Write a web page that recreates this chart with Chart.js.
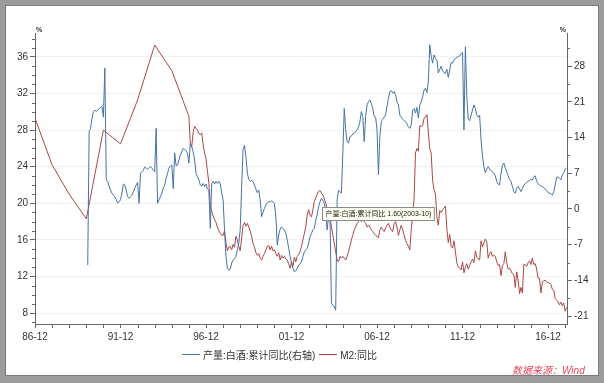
<!DOCTYPE html>
<html lang="zh">
<head>
<meta charset="UTF-8">
<title>白酒产量与M2</title>
<script src="https://cdn.jsdelivr.net/npm/chart.js"></script>
<style>
    body {
        margin: 0;
        width: 604px;
        height: 383px;
        background: #9c9c9c;
        position: relative;
        overflow: hidden;
        font-family: "Liberation Sans", "Noto Sans CJK SC", sans-serif;
    }
    .frame {
        position: absolute;
        left: 5px; top: 5px;
        width: 594px; height: 371px;
        background: #fff;
        box-shadow: inset 0 0 0 1px #7a7a7a;
    }
    .chart-box {
        position: absolute;
        left: 0; top: 0;
        width: 604px; height: 383px;
    }
    .legend {
        position: absolute;
        left: 182px; top: 347px;
        display: flex;
        align-items: center;
        font-size: 10px;
        color: #333;
        font-family: "Liberation Sans", "Noto Sans CJK SC", sans-serif;
    }
    .legend .swatch {
        display: inline-block;
        width: 18px; height: 1px;
        margin-right: 3px;
    }
    .legend .item { display: flex; align-items: center; margin-right: 4px; }
    .source {
        position: absolute;
        left: 512px; top: 362px;
        font-size: 10px;
        font-style: italic;
        color: #e04a5e;
        font-family: "Liberation Sans", "Noto Sans CJK SC", sans-serif;
    }
</style>
</head>
<body>
<div class="frame"></div>
<div class="chart-box"><canvas id="chart" width="604" height="383"></canvas></div>
<div class="legend">
    <span class="item"><span class="swatch" style="background:#4572a7"></span>产量:白酒:累计同比(右轴)</span>
    <span class="item"><span class="swatch" style="background:#aa4643"></span>M2:同比</span>
</div>
<div class="source">数据来源：Wind</div>

<script>
// ---- datos ----
const xTickLabels = ['86-12', '91-12', '96-12', '01-12', '06-12', '11-12', '16-12'];
const leftTicks = [8, 12, 16, 20, 24, 28, 32, 36];
const rightTicks = [-21, -14, -7, 0, 7, 14, 21, 28];

// M2 同比: anual hasta 1995, despues mensual
const m2AnnualDates = ['1986-12', '1987-12', '1988-12', '1989-12', '1990-12',
                       '1991-12', '1992-12', '1993-12', '1994-12', '1995-12'];
const m2AnnualValues = [29.3, 24.2, 21.0, 18.3, 28.0, 26.5, 31.3, 37.3, 34.5, 29.5];
const m2MonthlyStart = '1996-01';
const m2MonthlyValues = [
    26.5, 26.2, 27.8, 28.4, 28.2, 28.0, 27.6, 27.5, 27.7, 26.4, 25.5, 24.9,
    23.5, 22.2, 19.9, 19.1, 18.6, 18.2, 17.9, 17.4, 17.0, 16.7, 16.5, 16.5,
    17.0, 15.7, 14.8, 15.2, 15.3, 14.9, 15.5, 15.2, 16.4, 16.0, 15.3, 14.8,
    16.2, 17.6, 17.9, 17.5, 17.8, 17.4, 17.0, 16.4, 15.6, 15.2, 14.6, 14.3,
    14.5, 14.0, 13.8, 14.2, 14.5, 14.9, 15.3, 15.4, 14.9, 15.3, 14.8, 14.9,
    14.5, 14.2, 14.6, 13.8, 14.3, 14.0, 14.2, 13.9, 13.8, 13.4, 12.9, 13.6,
    13.1, 14.1, 13.6, 14.2, 14.4, 14.7, 15.3, 16.0, 16.7, 17.4, 18.7, 19.3,
    18.7, 18.5, 19.3, 20.2, 20.6, 21.0, 21.3, 21.4, 21.1, 20.9, 20.5, 20.0,
    19.4, 18.7, 18.4, 17.5, 16.5, 15.6, 14.7, 13.8, 13.6, 14.2, 14.0, 14.2,
    14.0, 13.8, 14.2, 14.7, 15.3, 16.0, 16.5, 17.1, 17.4, 17.8, 18.0, 18.2,
    18.0, 18.2, 18.0, 17.8, 17.4, 17.6, 17.4, 17.1, 16.9, 16.7, 16.5, 16.4,
    16.2, 17.1, 17.4, 17.1, 16.9, 17.3, 17.6, 17.8, 17.4, 17.1, 16.9, 17.8,
    18.0, 17.4, 16.5, 17.1, 17.6, 17.1, 16.5, 16.0, 15.6, 15.3, 14.9, 17.1,
    18.8, 20.5, 25.5, 26.0, 25.7, 28.5, 28.4, 28.5, 29.3, 29.4, 29.7, 27.7,
    26.0, 25.5, 22.5, 21.5, 21.0, 18.5, 17.6, 19.2, 19.0, 19.3, 19.5, 19.7,
    17.2, 15.7, 16.6, 15.3, 15.1, 15.9, 14.7, 13.5, 13.0, 12.9, 12.7, 13.6,
    12.4, 13.0, 13.4, 12.8, 13.2, 13.6, 13.9, 13.5, 14.8, 14.1, 13.9, 13.8,
    15.9, 15.2, 15.7, 16.1, 15.8, 14.0, 14.5, 14.7, 14.2, 14.3, 14.2, 13.6,
    13.2, 13.3, 12.1, 13.2, 13.4, 14.7, 13.5, 12.8, 12.9, 12.6, 12.3, 12.2,
    10.8, 12.5, 11.6, 10.1, 10.8, 10.2, 13.3, 13.3, 13.1, 13.5, 13.7, 13.3,
    14.0, 13.3, 13.4, 12.8, 11.8, 11.8, 10.2, 11.4, 11.5, 11.6, 11.4, 11.3,
    11.3, 11.1, 10.6, 10.5, 9.6, 9.4, 9.2, 8.9, 9.2, 8.8, 9.1, 8.2,
    8.6
];

// 产量:白酒:累计同比 (eje derecho), mensual
const baijiuStart = '1990-01';
const baijiuValues = [
    -11.0, 15.2, 15.8, 17.8, 19.1, 19.4, 19.1, 19.4, 19.7, 19.9, 20.1, 18.0,
    27.6, 5.7, 5.4, 4.4, 3.7, 3.1, 2.7, 2.4, 1.8, 1.2, 1.4, 1.8,
    3.1, 4.9, 4.7, 3.7, 2.4, 2.1, 2.4, 2.7, 3.4, 4.1, 4.7, 5.2,
    1.1, 7.0, 7.3, 7.6, 8.2, 8.0, 7.8, 8.1, 8.3, 8.0, 7.6, 7.3,
    15.8, 1.1, 1.8, 2.4, 3.1, 4.1, 4.7, 6.0, 7.0, 8.0, 8.4, 8.6,
    4.0, 11.0, 8.5, 8.6, 9.6, 10.6, 11.2, 11.9, 11.7, 11.4, 10.9, 9.0,
    12.9, 12.2, 11.2, 9.6, 7.0, 6.3, 5.7, 4.7, 4.5, 5.0, 4.4, 4.9,
    3.9, 3.7, -3.8, 5.0, 5.4, 4.9, 5.4, 5.0, 5.4, 4.9, 3.1, 1.8,
    -4.1, -9.3, -11.6, -12.0, -11.8, -10.6, -10.0, -9.7, -9.3, -8.0, -6.7, -4.1,
    4.4, 11.6, 12.5, 10.3, 7.0, 5.8, 5.4, 5.6, 5.4, 4.7, 3.9, 3.2,
    3.7, 1.8, -1.5, -0.7, 0.1, 0.8, 1.2, 1.4, 1.4, 1.6, 1.4, 1.1,
    -1.5, -7.1, -5.1, -4.0, -3.5, -3.8, -4.1, -4.8, -6.1, -7.7, -9.3, -10.6,
    -11.6, -12.3, -12.1, -11.6, -11.0, -10.8, -10.3, -9.3, -8.4, -8.0, -7.7, -6.7,
    -5.4, -4.8, -4.1, -3.8, -2.2, -1.2, 0.5, 1.4, 2.1, 1.6, 1.1, -0.5,
    -4.1, -1.5, -1.8, -18.5, -18.8, -19.2, -19.8, 1.8, 3.7, 3.4, 3.1, 10.9,
    19.7, 15.5, 13.2, 12.9, 14.2, 14.3, 14.7, 14.8, 15.2, 15.5, 16.1, 17.1,
    19.1, 18.1, 13.2, 18.1, 20.4, 21.0, 21.4, 20.7, 19.7, 18.1, 18.0, 15.5,
    6.7, 14.2, 17.1, 17.6, 18.0, 18.4, 20.1, 21.7, 23.0, 23.2, 22.7, 23.0,
    22.4, 21.0, 20.4, 18.4, 18.0, 17.6, 17.3, 17.1, 16.7, 16.1, 15.8, 16.5,
    19.4, 19.7, 18.8, 19.9, 17.8, 20.4, 21.0, 22.0, 23.3, 23.7, 22.8, 25.0,
    32.2, 29.9, 28.6, 30.2, 29.5, 29.2, 26.7, 27.3, 28.0, 27.1, 26.7, 26.6,
    27.4, 25.8, 27.3, 28.7, 28.6, 29.2, 29.5, 29.7, 29.9, 30.0, 30.4, 30.7,
    15.5, 31.8, 22.0, 17.6, 17.3, 18.4, 19.4, 20.4, 19.7, 18.4, 18.0, 18.4,
    13.5, 10.3, 8.3, 7.1, 7.8, 8.3, 7.8, 7.5, 7.3, 7.0, 6.5, 5.4,
    4.9, 4.7, 7.0, 8.6, 9.0, 8.0, 7.3, 6.5, 5.8, 5.4, 4.4, 3.4,
    3.1, 4.1, 4.4, 3.9, 3.4, 4.1, 4.7, 4.9, 5.2, 5.4, 5.6, 5.8,
    5.7, 6.3, 6.5, 5.4, 5.0, 4.7, 4.5, 4.4, 4.2, 3.9, 3.6, 3.2,
    3.1, 3.0, 2.7, 3.4, 4.7, 6.2, 6.3, 6.0, 5.7, 6.7, 7.1, 7.8,
    8.0
];

// punto marcado por el tooltip de la captura
const tooltipDate = '2003-10';
const tooltipName = '产量:白酒:累计同比';

// meses contados desde 1986-12
function monthIndex(s) {
    const [y, m] = s.split('-').map(Number);
    return (y - 1986) * 12 + (m - 12);
}
function labelToMonth(l) {
    const yy = Number(l.slice(0, 2));
    const year = yy > 50 ? 1900 + yy : 2000 + yy;
    return monthIndex(year + '-' + l.slice(3));
}

const m2Points = m2AnnualDates.map((d, i) => ({ x: monthIndex(d), y: m2AnnualValues[i] }))
    .concat(m2MonthlyValues.map((v, i) => ({ x: monthIndex(m2MonthlyStart) + i, y: v })));
const baijiuPoints = baijiuValues.map((v, i) => ({ x: monthIndex(baijiuStart) + i, y: v }));

const tickFont = { family: '"Liberation Sans", sans-serif', size: 10 };

// marcas menores, simbolos % y la etiqueta del tooltip
const extras = {
    id: 'extras',
    afterDraw(chart) {
        const { ctx, chartArea: a } = chart;
        const x = chart.scales.x, yL = chart.scales.yL, yR = chart.scales.yR;
        ctx.save();
        ctx.strokeStyle = '#666';
        ctx.lineWidth = 1;
        ctx.beginPath();
        for (let v = 7; v <= 38; v++) {
            if (v % 4 === 0) continue;
            const py = Math.round(yL.getPixelForValue(v)) + 0.5;
            ctx.moveTo(a.left - 3, py); ctx.lineTo(a.left, py);
        }
        for (let v = -17.5; v <= 33; v += 7) {
            const py = Math.round(yR.getPixelForValue(v)) + 0.5;
            ctx.moveTo(a.right, py); ctx.lineTo(a.right + 3, py);
        }
        for (let m = 12; m <= 372; m += 12) {
            if (m % 60 === 0) continue;
            const px = Math.round(x.getPixelForValue(m)) + 0.5;
            ctx.moveTo(px, a.bottom); ctx.lineTo(px, a.bottom + 4);
        }
        ctx.stroke();

        ctx.fillStyle = '#333';
        ctx.font = 'bold 7px "Liberation Sans", sans-serif';
        ctx.textBaseline = 'bottom';
        ctx.textAlign = 'left';
        ctx.fillText('%', a.left + 1, a.top + 1);
        ctx.textAlign = 'right';
        ctx.fillText('%', a.right - 1, a.top + 1);

        // tooltip
        const ti = monthIndex(tooltipDate) - monthIndex(baijiuStart);
        const val = baijiuValues[ti];
        const txt = tooltipName + ' ' + val.toFixed(2) + '(' + tooltipDate + ')';
        ctx.font = '7px "Liberation Sans", "Noto Sans CJK SC", sans-serif';
        const w = ctx.measureText(txt).width + 6;
        const bx = Math.round(x.getPixelForValue(monthIndex(tooltipDate))) - 1 + 0.5;
        const by = Math.round(yR.getPixelForValue(val)) + 6 + 0.5;
        ctx.fillStyle = '#fdfdf0';
        ctx.fillRect(bx, by, w, 13);
        ctx.strokeStyle = '#8a8a8a';
        ctx.strokeRect(bx, by, w, 13);
        ctx.fillStyle = '#222';
        ctx.textAlign = 'left';
        ctx.textBaseline = 'middle';
        ctx.fillText(txt, bx + 3, by + 7);
        ctx.restore();
    }
};

const ctx = document.getElementById('chart').getContext('2d');
new Chart(ctx, {
    type: 'line',
    data: {
        datasets: [{
            label: '产量:白酒:累计同比(右轴)',
            data: baijiuPoints,
            borderColor: '#4572a7',
            borderWidth: 1,
            pointRadius: 0,
            yAxisID: 'yR'
        }, {
            label: 'M2:同比',
            data: m2Points,
            borderColor: '#aa4643',
            borderWidth: 1,
            pointRadius: 0,
            yAxisID: 'yL'
        }]
    },
    options: {
        responsive: false,
        animation: false,
        layout: { padding: { top: 33, left: 0, right: 0, bottom: 0 } },
        plugins: { legend: { display: false }, tooltip: { enabled: false } },
        scales: {
            x: {
                type: 'linear',
                min: 0,
                max: 373.3,
                afterBuildTicks: s => { s.ticks = xTickLabels.map(l => ({ value: labelToMonth(l) })); },
                afterFit: s => { s.height = 59; },
                ticks: {
                    autoSkip: false, maxRotation: 0, padding: 3,
                    color: '#333', font: tickFont,
                    callback: v => xTickLabels.find(l => labelToMonth(l) === v) || ''
                },
                grid: { drawOnChartArea: false, tickLength: 4, tickColor: '#666' },
                border: { color: '#666' }
            },
            yL: {
                position: 'left',
                min: 6.8,
                max: 38.62,
                afterBuildTicks: s => { s.ticks = leftTicks.map(v => ({ value: v })); },
                afterFit: s => { s.width = 35; },
                ticks: { padding: 2, color: '#333', font: tickFont },
                grid: { color: '#f0f0f0', tickLength: 5, tickColor: '#666' },
                border: { color: '#666' }
            },
            yR: {
                position: 'right',
                min: -22.55,
                max: 34.5,
                afterBuildTicks: s => { s.ticks = rightTicks.map(v => ({ value: v })); },
                afterFit: s => { s.width = 37; },
                ticks: { padding: 2, color: '#333', font: tickFont },
                grid: { drawOnChartArea: false, tickLength: 5, tickColor: '#666' },
                border: { color: '#666' }
            }
        }
    },
    plugins: [extras]
});
</script>
</body>
</html>
